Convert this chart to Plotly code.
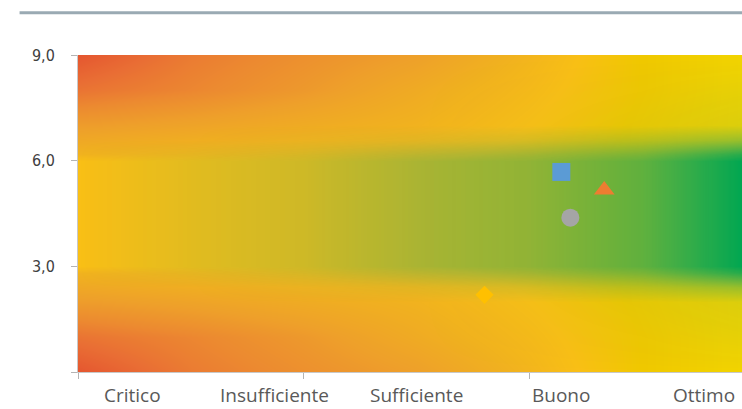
import plotly.graph_objects as go

# Background rating surface, built from two layers on the same column grid
bg_x = [0, 0.5, 1, 1.5, 2, 2.5, 2.94]

# Warm base layer (red -> orange -> yellow), rows bottom to top
base_y = [0, 1, 2, 2.8, 3, 6, 6.2, 7, 8, 9]
base_edge = [0.02, 0.22, 0.34, 0.45, 0.65, 0.88, 1.0]
base_outer = [0.18, 0.28, 0.40, 0.55, 0.70, 0.88, 1.0]
base_near = [0.42, 0.48, 0.55, 0.62, 0.75, 0.90, 1.0]
base_rim = [0.62, 0.66, 0.70, 0.72, 0.78, 0.90, 1.0]
base_core = [0.75, 0.75, 0.75, 0.75, 0.80, 0.90, 1.0]
base_z = [base_edge, base_outer, base_near, base_rim, base_core,
          base_core, base_rim, base_near, base_outer, base_edge]
base_scale = [
    [0.00, "#e4522f"], [0.15, "#e96e34"], [0.30, "#ec8a30"], [0.45, "#eea02a"],
    [0.60, "#f0b020"], [0.75, "#f9bf16"], [0.88, "#f0c800"], [1.00, "#f2d400"],
]

# Green band layer: strength of the green tint, rows bottom to top
band_y = [0, 2, 2.4, 2.8, 3, 6, 6.2, 6.6, 7, 9]
band_none = [0, 0, 0, 0, 0, 0, 0]
band_faint = [0, 0, 0, 0, 0.02, 0.05, 0.10]
band_soft = [0, 0, 0.03, 0.08, 0.15, 0.25, 0.40]
band_rim = [0, 0.06, 0.14, 0.26, 0.36, 0.52, 0.85]
band_core = [0, 0.10, 0.19, 0.34, 0.44, 0.63, 1.0]
band_z = [band_none, band_faint, band_soft, band_rim, band_core,
          band_core, band_rim, band_soft, band_faint, band_none]
band_scale = [
    [0.0, "rgba(24,158,118,0)"],
    [0.5, "rgba(14,160,104,0.5)"],
    [1.0, "rgba(0,166,81,1)"],
]

# Category labels along the bottom and their positions
cat_labels = ["Critico", "Insufficiente", "Sufficiente", "Buono", "Ottimo"]
cat_pos = [0.24, 0.87, 1.50, 2.14, 2.77]

# Plotted series
series_names = ["Serie 1", "Serie 2", "Serie 3", "Serie 4"]
series_x = [2.14, 2.33, 2.18, 1.80]
series_y = [5.68, 5.17, 4.38, 2.19]
series_symbol = ["square", "triangle-up", "circle", "diamond"]
series_size = [18, 18, 18, 14]
series_color = ["#5b9bd5", "#ed7d31", "#a5a5a5", "#ffc000"]

fig = go.Figure()
fig.add_trace(go.Heatmap(
    x=bg_x, y=base_y, z=base_z, zmin=0, zmax=1, colorscale=base_scale,
    zsmooth="best", showscale=False, hoverinfo="skip",
))
fig.add_trace(go.Heatmap(
    x=bg_x, y=band_y, z=band_z, zmin=0, zmax=1, colorscale=band_scale,
    zsmooth="best", showscale=False, hoverinfo="skip",
))
for name, xv, yv, sym, sz, col in zip(series_names, series_x, series_y,
                                       series_symbol, series_size, series_color):
    fig.add_trace(go.Scatter(
        x=[xv], y=[yv], mode="markers", name=name,
        marker=dict(symbol=sym, size=sz, color=col, line=dict(width=0)),
    ))

for lab, pos in zip(cat_labels, cat_pos):
    fig.add_annotation(
        x=pos, xref="x", y=0, yref="paper", yanchor="bottom", yshift=-37,
        text=lab, showarrow=False, borderpad=0,
        font=dict(family="Open Sans, Noto Sans, sans-serif", size=19, color="#595959"),
    )

# Decorative rule across the top
fig.add_shape(type="line", xref="paper", yref="paper", x0=-0.088, x1=1.0,
              y0=1.133, y1=1.133, line=dict(color="#9aaab3", width=3))

fig.update_layout(
    width=742, height=409,
    margin=dict(l=78, r=0, t=55, b=37),
    paper_bgcolor="white", plot_bgcolor="white",
    separators=",.",
    showlegend=False,
    xaxis=dict(
        range=[0, 2.94], tickvals=[0, 1, 2], ticktext=["", "", ""],
        showgrid=True, gridcolor="#b4b4b4", gridwidth=1,
        ticks="outside", ticklen=6, tickcolor="#b4b4b4",
        showline=True, linecolor="#c8c8c8", linewidth=1,
        zeroline=False,
    ),
    yaxis=dict(
        range=[0, 9], tickvals=[0, 3, 6, 9], ticktext=["", "3,0", "6,0", "9,0"],
        showgrid=True, gridcolor="#b4b4b4", gridwidth=1,
        ticks="outside", ticklen=6, tickcolor="#b4b4b4",
        showline=True, linecolor="#c8c8c8", linewidth=1,
        zeroline=False, ticklabelstandoff=13,
        tickfont=dict(family="Liberation Sans Narrow, DejaVu Sans Condensed, sans-serif",
                      size=16, color="#404040"),
    ),
)

fig.write_html("out.html")
